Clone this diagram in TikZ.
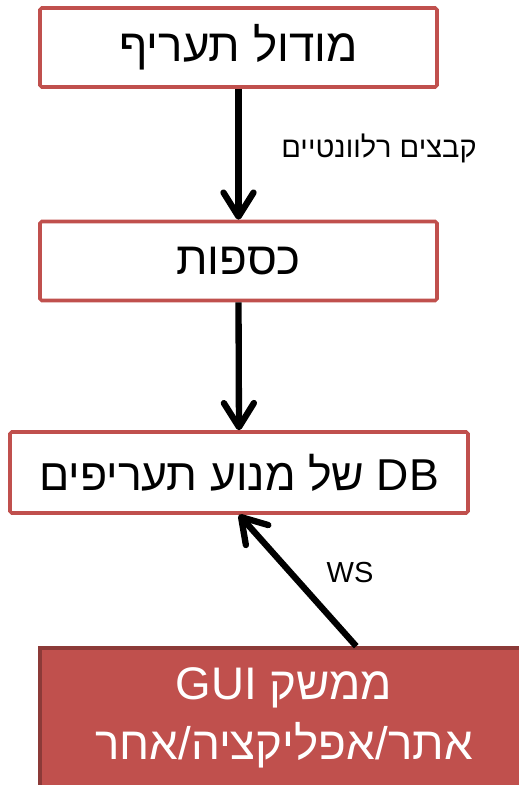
\documentclass[tikz,border=0pt]{standalone}
\usepackage{fontspec}
\usetikzlibrary{arrows.meta}
\TeXXeTstate=1
\newfontfamily\hebfont[Script=Hebrew]{Liberation Sans}
\definecolor{boxred}{HTML}{C0504D}
\definecolor{boxdark}{HTML}{8C3A38}
\tikzset{
    modbox/.style={draw=boxred, line width=2pt, fill=white, rounded corners=1pt,
        minimum width=7.94cm, minimum height=1.58cm, font=\hebfont\fontsize{26}{30}\selectfont},
    guibox/.style={draw=boxdark, line width=2pt, fill=boxred, text=white, align=center,
        minimum width=9.76cm, minimum height=2.8cm, font=\hebfont\fontsize{26}{34}\selectfont},
    flow/.style={line width=3.6pt, -{Straight Barb[length=4.8mm, width=6mm, line cap=round, line join=round]}},
    lbl/.style={font=\hebfont\fontsize{16.5}{19}\selectfont}
}
\begin{document}
\begin{tikzpicture}
    \useasboundingbox (0,0) rectangle (10.36,-15.7);

    % Moduli
    \node[modbox] (tariff) at (4.77,-0.95) {\beginR מודול תעריף\endR};
    \node[modbox] (kaspot) at (4.77,-5.22) {\beginR כספות\endR};
    \node[modbox, minimum width=9.16cm, minimum height=1.62cm, font=\hebfont\fontsize{25.4}{30}\selectfont] (db) at (4.78,-9.45)
        {\beginR\beginL DB\endL{} של מנוע תעריפים\endR};

    % Interfaccia
    \node[guibox] (gui) at (5.68,-14.36)
        {\beginR ממשק \beginL GUI\endL\endR\\ \beginR אתר/אפליקציה/אחר\endR};
    \coordinate (wsstart) at ([xshift=6.36cm]gui.north west);

    % Frecce
    \draw[flow] (tariff.south) -- (kaspot.north);
    \draw[flow] (kaspot.south) -- (db.north);
    \draw[flow] (wsstart) -- (db.south);

    % Etichette
    \node[lbl] (files) at (7.58,-2.96) {\beginR קבצים רלוונטיים\endR};
    \node[lbl] (ws) at (7.0,-11.46) {WS};
\end{tikzpicture}
\end{document}
